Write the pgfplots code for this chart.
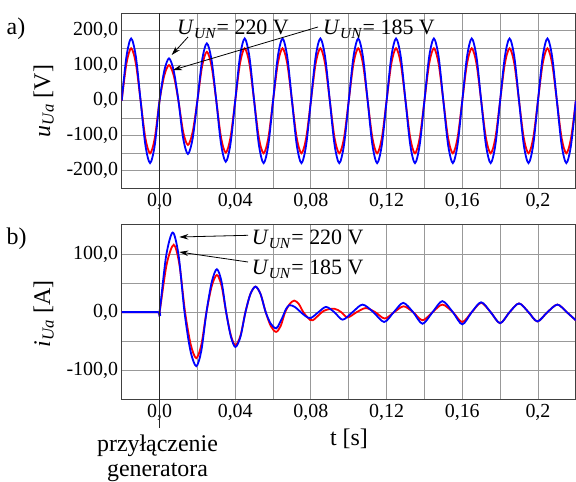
\documentclass[border=0pt]{standalone}
\usepackage{pgfplots}
\pgfplotsset{compat=1.18}
\usepackage{pgfplotstable}
\usetikzlibrary{arrows.meta}
\usepackage{fontspec}
\setmainfont{LiberationSerif}[Extension=.ttf, UprightFont=*-Regular, ItalicFont=*-Italic, BoldFont=*-Bold, BoldItalicFont=*-BoldItalic]
\newcommand\serif{\rmfamily}

\pgfplotstableread{
t b r
-0.02 0 0
-0.0175 125.9 106.1
-0.015 178 150
-0.0125 125.9 106.1
-0.01 0 0
-0.0075 -125.9 -106.1
-0.005 -178 -150
-0.0025 -125.9 -106.1
0 0 0
0.0025 85.6 72.1
0.005 121 102
0.0075 85.6 72.1
0.01 0 0
0.0125 -107.5 -89.1
0.015 -152 -126
0.0175 -107.5 -89.1
0.02 0 0
0.0225 116.0 99.0
0.025 164 140
0.0275 116.0 99.0
0.03 0 0
0.0325 -123.0 -104.7
0.035 -174 -148
0.0375 -123.0 -104.7
0.04 0 0
0.0425 125.9 106.1
0.045 178 150
0.0475 125.9 106.1
0.05 0 0
0.0525 -125.9 -106.1
0.055 -178 -150
0.0575 -125.9 -106.1
0.06 0 0
0.0625 125.9 106.1
0.065 178 150
0.0675 125.9 106.1
0.07 0 0
0.0725 -125.9 -106.1
0.075 -178 -150
0.0775 -125.9 -106.1
0.08 0 0
0.0825 125.9 106.1
0.085 178 150
0.0875 125.9 106.1
0.09 0 0
0.0925 -125.9 -106.1
0.095 -178 -150
0.0975 -125.9 -106.1
0.10 0 0
0.1025 125.9 106.1
0.105 178 150
0.1075 125.9 106.1
0.11 0 0
0.1125 -125.9 -106.1
0.115 -178 -150
0.1175 -125.9 -106.1
0.12 0 0
0.1225 125.9 106.1
0.125 178 150
0.1275 125.9 106.1
0.13 0 0
0.1325 -125.9 -106.1
0.135 -178 -150
0.1375 -125.9 -106.1
0.14 0 0
0.1425 125.9 106.1
0.145 178 150
0.1475 125.9 106.1
0.15 0 0
0.1525 -125.9 -106.1
0.155 -178 -150
0.1575 -125.9 -106.1
0.16 0 0
0.1625 125.9 106.1
0.165 178 150
0.1675 125.9 106.1
0.17 0 0
0.1725 -125.9 -106.1
0.175 -178 -150
0.1775 -125.9 -106.1
0.18 0 0
0.1825 125.9 106.1
0.185 178 150
0.1875 125.9 106.1
0.19 0 0
0.1925 -125.9 -106.1
0.195 -178 -150
0.1975 -125.9 -106.1
0.20 0 0
0.2025 125.9 106.1
0.205 178 150
0.2075 125.9 106.1
0.21 0 0
0.2125 -125.9 -106.1
0.215 -178 -150
0.2175 -125.9 -106.1
0.22 0 0
}\voltagetable

\pgfplotsset{
  myaxis/.style={
    scale only axis,
    width=454.1bp,
    xmin=-0.02, xmax=0.22,
    xtick={0,0.04,0.08,0.12,0.16,0.2},
    xticklabels={{0,0},{0,04},{0,08},{0,12},{0,16},{0,2}},
    minor xtick={0.02,0.06,0.1,0.14,0.18},
    grid=both,
    major grid style={black!40, line width=0.9bp},
    minor grid style={black!40, line width=0.9bp},
    major tick length=0pt, minor tick length=0pt,
    axis line style={black!75, line width=1bp},
    ticklabel style={font=\serif\fontsize{20}{24}\selectfont},
    xticklabel style={anchor=north, inner sep=0pt, yshift=-4.5bp},
    yticklabel style={anchor=east, inner sep=0pt, xshift=-3.5bp},
  },
}

\begin{document}
\begin{tikzpicture}
\useasboundingbox (0bp,0bp) rectangle (576bp,482bp);

\begin{axis}[myaxis,
  at={(121.7bp,293.7bp)}, anchor=south west, height=175bp,
  ymin=-250, ymax=250,
  ytick={-200,-100,0,100,200},
  yticklabels={{-200,0},{-100,0},{0,0},{100,0},{200,0}},
  minor ytick={-150,-50,50,150},
]
\addplot[red, line width=1.8bp, smooth] table[x=t, y=r] {\voltagetable};
\addplot[blue, line width=1.8bp, smooth] table[x=t, y=b] {\voltagetable};
\coordinate (z1) at (axis cs:0,250);
\end{axis}

\begin{axis}[myaxis,
  at={(121.7bp,82.7bp)}, anchor=south west, height=174.3bp,
  ymin=-150, ymax=150,
  ytick={-100,0,100},
  yticklabels={{-100,0},{0,0},{100,0}},
  minor ytick={-50,50},
]
\addplot[red, line width=1.8bp, smooth] coordinates {
(-0.02,0) (-0.001,0) (0,0) (0.00375,82) (0.0075,116) (0.0105,82) (0.0135,0)
(0.0165,-56) (0.0194,-79) (0.0221,-56) (0.0248,0) (0.0276,45) (0.0303,64)
(0.0328,45) (0.0352,0) (0.0377,-40) (0.0401,-57) (0.0428,-40) (0.0454,0)
(0.0480,31) (0.0507,44) (0.0534,31) (0.0561,0) (0.0588,-24) (0.0616,-34)
(0.064,-24) (0.0664,0) (0.0688,14) (0.0712,20) (0.0736,14) (0.076,0)
(0.0785,-10) (0.081,-14) (0.0867,2) (0.0923,6) (0.096,0) (0.0994,-9)
(0.1042,0) (0.109,7) (0.114,0) (0.119,-11) (0.124,0) (0.129,10) (0.134,0)
(0.139,-14) (0.1443,0) (0.1495,13) (0.155,0) (0.160,-17) (0.165,0)
(0.170,16) (0.175,0) (0.180,-19) (0.185,0) (0.190,15) (0.195,0)
(0.1997,-16) (0.205,0) (0.2103,13) (0.2152,0) (0.22,-14)
};
\addplot[blue, line width=1.8bp, smooth] coordinates {
(-0.02,0) (-0.001,0) (0,0) (0.0035,97) (0.007,137) (0.0101,97) (0.0132,0)
(0.0163,-66) (0.0194,-93) (0.0221,-66) (0.0248,0) (0.0276,52) (0.0303,74)
(0.0328,52) (0.0352,0) (0.0377,-42) (0.0401,-60) (0.0428,-42) (0.0454,0)
(0.0480,31) (0.0507,44) (0.0534,31) (0.0561,0) (0.0588,-20) (0.0616,-28)
(0.0633,-20) (0.0651,-8) (0.0668,5) (0.0686,12) (0.0715,9) (0.0743,1)
(0.0772,-7) (0.080,-10) (0.084,0) (0.088,9) (0.0924,0) (0.0968,-13)
(0.102,0) (0.1073,13) (0.113,0) (0.1187,-17) (0.1238,0) (0.1288,16)
(0.134,0) (0.139,-20) (0.1443,0) (0.1495,19) (0.155,0) (0.160,-21)
(0.165,0) (0.170,17) (0.175,0) (0.180,-19) (0.185,0) (0.190,15) (0.195,0)
(0.1997,-16) (0.205,0) (0.2103,13) (0.2152,0) (0.22,-14)
};
\coordinate (z2) at (axis cs:0,-150);
\end{axis}

% connection instant line
\draw[black!85, line width=1.2bp] (z1) -- (z2) -- ++(0,-29bp);

% panel letters
\node[anchor=base west, inner sep=0pt, font=\serif\fontsize{24}{28}\selectfont] at (6.5bp,447bp) {a)};
\node[anchor=base west, inner sep=0pt, font=\serif\fontsize{24}{28}\selectfont] at (6.5bp,237bp) {b)};

% y labels
\node[rotate=90, anchor=base, inner sep=0pt, font=\serif\fontsize{24}{28}\selectfont] at (50bp,381bp) {\textit{u}\textsubscript{\textit{Ua}} [V]};
\node[rotate=90, anchor=base, inner sep=0pt, font=\serif\fontsize{24}{28}\selectfont] at (50bp,168bp) {\textit{i}\textsubscript{\textit{Ua}} [A]};

% x label and note
\node[anchor=base, inner sep=0pt, font=\serif\fontsize{24}{28}\selectfont] at (349bp,37bp) {t [s]};
\node[anchor=base, inner sep=0pt, font=\serif\fontsize{24}{28}\selectfont] at (157.5bp,30.3bp) {przyłączenie};
\node[anchor=base, inner sep=0pt, font=\serif\fontsize{24}{28}\selectfont] at (157.5bp,5.3bp) {generatora};

% top annotations
\node[anchor=base west, inner sep=0pt, font=\serif\fontsize{22}{26}\selectfont] at (177bp,447bp) {\textit{U}\textsubscript{\textit{UN}}= 220 V};
\node[anchor=base west, inner sep=0pt, font=\serif\fontsize{22}{26}\selectfont] at (323bp,447bp) {\textit{U}\textsubscript{\textit{UN}}= 185 V};
\draw[-{Stealth[length=9bp,width=5.5bp]}, line width=0.8bp] (188bp,445bp) -- (171.7bp,427bp);
\draw[-{Stealth[length=9bp,width=5.5bp]}, line width=0.8bp] (318bp,455bp) -- (173bp,412bp);

% bottom annotations
\node[anchor=base west, inner sep=0pt, font=\serif\fontsize{22}{26}\selectfont] at (251.7bp,237bp) {\textit{U}\textsubscript{\textit{UN}}= 220 V};
\node[anchor=base west, inner sep=0pt, font=\serif\fontsize{22}{26}\selectfont] at (251.7bp,207bp) {\textit{U}\textsubscript{\textit{UN}}= 185 V};
\draw[-{Stealth[length=9bp,width=5.5bp]}, line width=0.8bp] (248bp,246.7bp) -- (179.3bp,245bp);
\draw[-{Stealth[length=9bp,width=5.5bp]}, line width=0.8bp] (248bp,220bp) -- (179.3bp,230bp);
\end{tikzpicture}
\end{document}
